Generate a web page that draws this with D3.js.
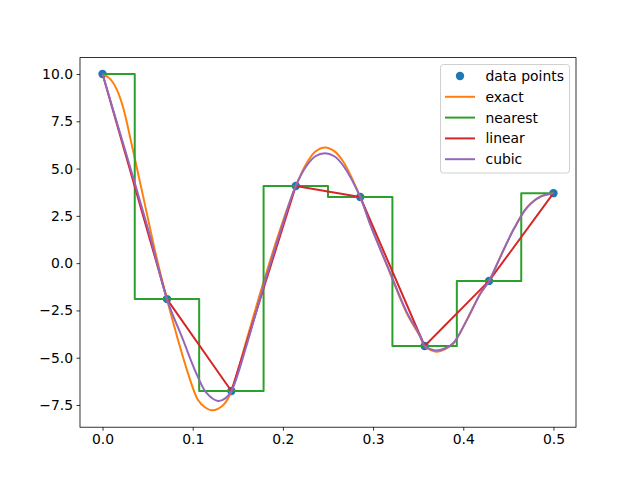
<!DOCTYPE html>
<html>
<head>
<meta charset="utf-8">
<script src="https://cdn.jsdelivr.net/npm/d3@7/dist/d3.min.js"></script>
<style>
  html, body { margin: 0; padding: 0; background: #fff; }
  svg { display: block; }
  text { font-family: "DejaVu Sans", sans-serif; }
</style>
</head>
<body>
<svg id="chart" width="640" height="480"></svg>
<script>
// Data points (x = 0 .. 0.5 in 8 steps)
const dataX = [0, 1/14, 2/14, 3/14, 4/14, 5/14, 6/14, 0.5];
const dataY = [10.0, -1.90, -6.76, 4.08, 3.50, -4.38, -0.94, 3.70];

// "exact" curve, sampled by reading the picture
const exactX = [0, 0.0078, 0.0152, 0.0226, 0.0337, 0.0467, 0.0597, 0.0714, 0.0837, 0.0948,
  0.1059, 0.1135, 0.1207, 0.1280, 0.1356, 0.1429, 0.1597, 0.1781, 0.1967, 0.2143,
  0.2263, 0.2360, 0.2467, 0.2570, 0.2670, 0.2857, 0.2967, 0.3189, 0.3374, 0.3522,
  0.3571, 0.3640, 0.3707, 0.3800, 0.3893, 0.4040, 0.4190, 0.4286, 0.4410, 0.4560,
  0.4708, 0.4856, 0.5];
const exactY = [10.0, 9.77, 9.24, 8.27, 5.98, 3.16, 0.34, -1.90, -4.06, -5.83,
  -7.24, -7.62, -7.78, -7.70, -7.41, -6.76, -4.06, -1.07, 1.75, 4.08,
  5.28, 5.90, 6.12, 5.92, 5.36, 3.50, 2.10, -0.54, -2.65, -3.89,
  -4.38, -4.60, -4.68, -4.55, -4.24, -3.00, -1.60, -0.94, 0.32, 1.80,
  2.95, 3.52, 3.70];

// "cubic" curve, sampled by reading the picture
const cubicX = [0, 0.018, 0.0357, 0.054, 0.0714, 0.0893, 0.104, 0.115, 0.128, 0.136,
  0.1429, 0.160, 0.178, 0.1967, 0.2143, 0.2263, 0.236, 0.2467, 0.257, 0.267,
  0.2857, 0.2967, 0.3189, 0.3374, 0.3522, 0.3571, 0.364, 0.3707, 0.380, 0.3893,
  0.404, 0.419, 0.4286, 0.441, 0.456, 0.4708, 0.4856, 0.5];
const cubicY = [10.0, 7.10, 4.25, 1.20, -1.90, -4.06, -5.83, -6.85, -7.29, -7.15,
  -6.76, -4.30, -1.30, 1.60, 4.08, 5.15, 5.65, 5.81, 5.65, 5.15,
  3.50, 2.05, -0.50, -2.60, -3.85, -4.38, -4.55, -4.62, -4.50, -4.20,
  -3.00, -1.60, -0.94, 0.32, 1.80, 2.95, 3.52, 3.70];

const xTicks = [0.0, 0.1, 0.2, 0.3, 0.4, 0.5];
const yTicks = [-7.5, -5.0, -2.5, 0.0, 2.5, 5.0, 7.5, 10.0];
const seriesNames = ["data points", "exact", "nearest", "linear", "cubic"];
const seriesColors = ["#1f77b4", "#ff7f0e", "#2ca02c", "#d62728", "#9467bd"];

const svg = d3.select("#chart");
const L = 80, R = 576, T = 57.6, B = 427.2;

const x = d3.scaleLinear().domain([-0.025, 0.525]).range([L, R]);
const y = d3.scaleLinear().domain([-8.674, 10.867]).range([B, T]);

const pts = dataX.map((d, i) => [d, dataY[i]]);
const exact = exactX.map((d, i) => [d, exactY[i]]);
const cubic = cubicX.map((d, i) => [d, cubicY[i]]);

const plot = svg.append("g");
plot.append("defs").append("clipPath").attr("id", "clip")
  .append("rect").attr("x", L).attr("y", T).attr("width", R - L).attr("height", B - T);
const g = plot.append("g").attr("clip-path", "url(#clip)");

// data points (drawn first, under lines)
g.selectAll("circle.pt").data(pts).enter().append("circle")
  .attr("class", "pt")
  .attr("cx", d => x(d[0])).attr("cy", d => y(d[1]))
  .attr("r", 4.2).attr("fill", seriesColors[0]);

const mk = (curve) => d3.line().x(d => x(d[0])).y(d => y(d[1])).curve(curve);

g.append("path").attr("d", mk(d3.curveCatmullRom.alpha(0.5))(exact))
  .attr("fill", "none").attr("stroke", seriesColors[1]).attr("stroke-width", 2);
g.append("path").attr("d", mk(d3.curveStep)(pts))
  .attr("fill", "none").attr("stroke", seriesColors[2]).attr("stroke-width", 2)
  .attr("stroke-linejoin", "round");
g.append("path").attr("d", mk(d3.curveLinear)(pts))
  .attr("fill", "none").attr("stroke", seriesColors[3]).attr("stroke-width", 2)
  .attr("stroke-linejoin", "round");
g.append("path").attr("d", mk(d3.curveCatmullRom.alpha(0.5))(cubic))
  .attr("fill", "none").attr("stroke", seriesColors[4]).attr("stroke-width", 2);

// axes
const xAxis = d3.axisBottom(x).tickValues(xTicks).tickFormat(d3.format(".1f"))
  .tickSizeInner(3.5).tickSizeOuter(0).tickPadding(3.5);
const yAxis = d3.axisLeft(y).tickValues(yTicks).tickFormat(d3.format(".1f"))
  .tickSizeInner(3.5).tickSizeOuter(0).tickPadding(3.5);

const gx = svg.append("g").attr("transform", `translate(0,${B})`).call(xAxis);
const gy = svg.append("g").attr("transform", `translate(${L},0)`).call(yAxis);
[gx, gy].forEach(a => {
  a.select(".domain").remove();
  a.selectAll("line").attr("stroke", "#000").attr("stroke-width", 0.8);
  a.selectAll("text").attr("font-family", "DejaVu Sans").attr("font-size", "13.9px").attr("fill", "#000");
});
gy.selectAll("text").text(d => d.toFixed(1).replace("-", "\u2212"));

// frame
svg.append("rect").attr("x", L).attr("y", T).attr("width", R - L).attr("height", B - T)
  .attr("fill", "none").attr("stroke", "#000").attr("stroke-width", 0.8);

// legend
const lg = svg.append("g");
lg.append("rect").attr("x", 440.5).attr("y", 64.5).attr("width", 129).attr("height", 108.5)
  .attr("rx", 3).attr("fill", "#fff").attr("fill-opacity", 0.8)
  .attr("stroke", "#d0d0d0").attr("stroke-width", 1);
seriesNames.forEach((name, i) => {
  const cy = 76 + i * 20.8;
  if (i === 0) {
    lg.append("circle").attr("cx", 460).attr("cy", cy).attr("r", 4.2).attr("fill", seriesColors[0]);
  } else {
    lg.append("line").attr("x1", 445).attr("x2", 475).attr("y1", cy).attr("y2", cy)
      .attr("stroke", seriesColors[i]).attr("stroke-width", 2);
  }
  lg.append("text").attr("x", 485.5).attr("y", cy).attr("dy", "0.36em")
    .attr("font-size", "13.9px").attr("fill", "#000").text(name);
});
</script>
</body>
</html>
